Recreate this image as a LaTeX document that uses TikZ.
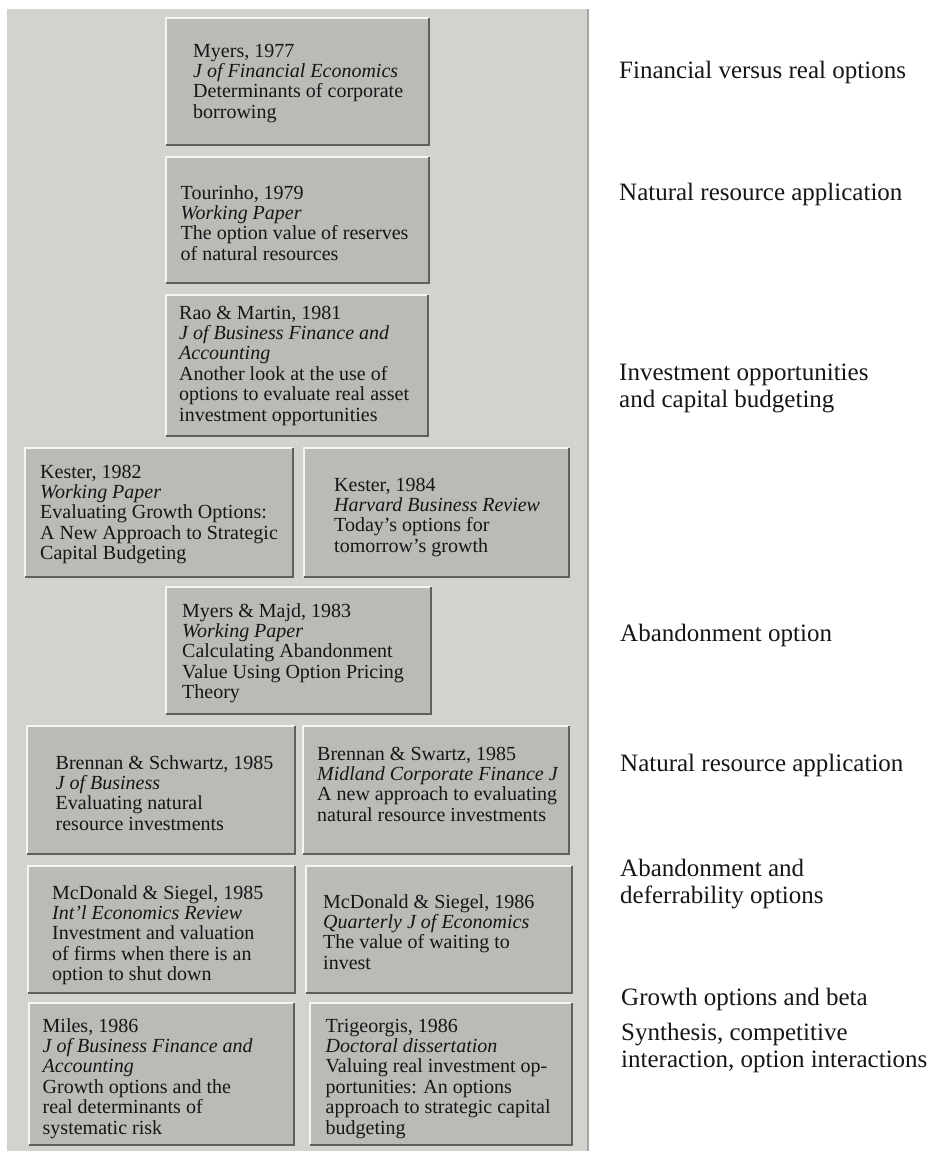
\documentclass[tikz,border=0pt]{standalone}
\usepackage{fontspec}
\setmainfont{Liberation Serif}
\usetikzlibrary{calc}

\definecolor{panelgray}{RGB}{210,210,206}
\definecolor{paneledge}{RGB}{165,165,162}
\definecolor{boxgray}{RGB}{186,186,183}
\definecolor{shadeline}{RGB}{95,95,95}
\definecolor{glintline}{RGB}{244,244,240}
\definecolor{ink}{RGB}{22,22,22}

\tikzset{
  paper/.style={fill=boxgray, draw=none, inner sep=0, outer sep=0, anchor=north west},
  glint/.style={draw=glintline, line width=1.6pt},
  shade/.style={draw=shadeline, line width=2pt},
  reftext/.style={anchor=base west, inner sep=0, text=ink,
    font=\fontsize{20}{20.4}\selectfont},
  topic/.style={anchor=base west, inner sep=0, text=ink,
    font=\fontsize{25}{27}\selectfont},
}

% one bevelled reference card: name, x1, y1, x2, y2, text offset x, text offset y, lines
\newcommand\drawpaper[8]{%
  \node[paper, minimum width={#4-#2}, minimum height={#5-#3}] (#1) at (#2,#3) {};
  \draw[glint] (#1.south west) -- (#1.north west) -- (#1.north east);
  \draw[shade] (#1.south west) -- (#1.south east) -- (#1.north east);
  \node[reftext] (#1t) at ($(#1.north west)+(#6,#7)$)
    {\begin{tabular}[t]{@{}l@{}}#8\end{tabular}};%
}
\newcommand\topiclines[1]{\begin{tabular}[t]{@{}l@{}}#1\end{tabular}}

\begin{document}
\begin{tikzpicture}[x=1pt, y=-1pt]
  \useasboundingbox (0,0) rectangle (935,1151);
  \fill[white] (0,0) rectangle (935,1151);

  % grey backing panel with a darker right rim
  \node[fill=panelgray, inner sep=0, outer sep=0, anchor=north west,
        minimum width=581, minimum height=1142] (panel) at (7,9) {};
  \draw[paneledge, line width=1.5pt] (panel.north east) -- (panel.south east);

  \drawpaper{b1}{166}{18}{429}{145}{27}{39}{%
    Myers, 1977\\ \textit{J of Financial Economics}\\
    Determinants of corporate\\ borrowing}
  \drawpaper{b2}{166}{157}{429}{283}{14.5}{42}{%
    Tourinho, 1979\\ \textit{Working Paper}\\
    The option value of reserves\\ of natural resources}
  \drawpaper{b3}{166}{295}{428}{436}{13}{24}{%
    Rao \& Martin, 1981\\ \textit{J of Business Finance and}\\
    \textit{Accounting}\\ Another look at the use of\\
    options to evaluate real asset\\ investment opportunities}
  \drawpaper{b4}{25}{448}{293}{577}{15}{30}{%
    Kester, 1982\\ \textit{Working Paper}\\
    Evaluating Growth Options:\\ A New Approach to Strategic\\
    Capital Budgeting}
  \drawpaper{b5}{304}{448}{569}{577}{30}{43}{%
    Kester, 1984\\ \textit{Harvard Business Review}\\
    Today's options for\\ tomorrow's growth}
  \drawpaper{b6}{166}{587}{431}{714}{16}{30}{%
    Myers \& Majd, 1983\\ \textit{Working Paper}\\
    Calculating Abandonment\\ Value Using Option Pricing\\ Theory}
  \drawpaper{b7}{27}{726}{295}{854}{28.5}{43}{%
    Brennan \& Schwartz, 1985\\ \textit{J of Business}\\
    Evaluating natural\\ resource investments}
  \drawpaper{b8}{303}{726}{569}{854}{14}{34}{%
    Brennan \& Swartz, 1985\\ \textit{Midland Corporate Finance J}\\
    A new approach to evaluating\\ natural resource investments}
  \drawpaper{b9}{28}{866}{295}{993}{24}{33}{%
    McDonald \& Siegel, 1985\\ \textit{Int'l Economics Review}\\
    Investment and valuation\\ of firms when there is an\\
    option to shut down}
  \drawpaper{b10}{306}{866}{572}{993}{17}{42}{%
    McDonald \& Siegel, 1986\\ \textit{Quarterly J of Economics}\\
    The value of waiting to\\ invest}
  \drawpaper{b11}{29}{1003}{294}{1145}{13.5}{29}{%
    Miles, 1986\\ \textit{J of Business Finance and}\\
    \textit{Accounting}\\ Growth options and the\\
    real determinants of\\ systematic risk}
  \drawpaper{b12}{310}{1003}{572}{1145}{15.5}{29}{%
    Trigeorgis, 1986\\ \textit{Doctoral dissertation}\\
    Valuing real investment op-\\ portunities: An options\\
    approach to strategic capital\\ budgeting}

  % topic labels in the right column
  \node[topic] (l1) at (619,78)   {Financial versus real options};
  \node[topic] (l2) at (619,200)  {Natural resource application};
  \node[topic] (l3) at (619,380)  {\topiclines{Investment opportunities\\ and capital budgeting}};
  \node[topic] (l4) at (620,641)  {Abandonment option};
  \node[topic] (l5) at (620,771)  {Natural resource application};
  \node[topic] (l6) at (620,876)  {\topiclines{Abandonment and\\ deferrability options}};
  \node[topic] (l7) at (621,1005) {Growth options and beta};
  \node[topic] (l8) at (621,1040) {\topiclines{Synthesis, competitive\\ interaction, option interactions}};
\end{tikzpicture}
\end{document}
